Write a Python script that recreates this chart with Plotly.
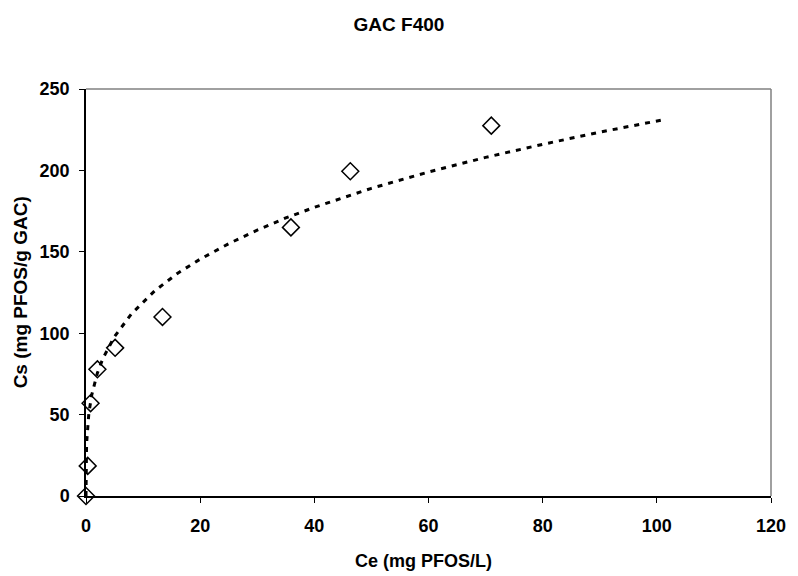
import plotly.graph_objects as go

# Measured isotherm data (Ce in mg PFOS/L, Cs in mg PFOS/g GAC)
ce_data = [0.0, 0.3, 0.8, 2.0, 5.1, 13.4, 35.9, 46.3, 71.0]
cs_data = [0.0, 18.5, 57.0, 77.8, 91.0, 110.0, 165.0, 199.5, 227.5]

# Fitted trend curve
ce_fit = [0.0, 0.001, 0.01, 0.1, 0.5, 1, 2, 3, 5, 8, 12, 16, 20, 25, 30, 35,
          40, 50, 60, 70, 80, 90, 101]
cs_fit = [0.0, 8.7, 16.7, 32.2, 50.9, 62.0, 75.6, 84.8, 98.0, 112.0, 125.9,
          136.7, 145.5, 155.0, 163.3, 170.8, 177.3, 189.0, 199.0, 208.0,
          216.0, 223.5, 231.0]

x_ticks = [0, 20, 40, 60, 80, 100, 120]
y_ticks = [0, 50, 100, 150, 200, 250]

FONT = "Liberation Sans, Arial, sans-serif"

fig = go.Figure()
fig.add_trace(go.Scatter(
    x=ce_fit, y=cs_fit, mode="lines",
    line=dict(color="black", width=3, dash="5px,6px"),
    showlegend=False, hoverinfo="skip",
))
fig.add_trace(go.Scatter(
    x=ce_data, y=cs_data, mode="markers",
    marker=dict(symbol="diamond-open", size=13, color="black",
                line=dict(color="black", width=1.5)),
    showlegend=False, cliponaxis=False,
))

fig.update_layout(
    width=798, height=576,
    margin=dict(l=86, r=18, t=89, b=80),
    paper_bgcolor="white", plot_bgcolor="white",
    font=dict(family=FONT, color="black"),
    title=dict(text="<b>GAC F400</b>", x=0.5, xref="container",
               y=1 - 24 / 576, yref="container", yanchor="middle",
               xanchor="center", font=dict(size=19, family=FONT)),
    xaxis=dict(range=[0, 120], tickvals=x_ticks, showgrid=False,
               zeroline=False, showline=True, linecolor="black", linewidth=1.5,
               ticks="outside", ticklen=5, tickcolor="black",
               tickfont=dict(size=18, family=FONT, weight="bold"),
               ticklabelstandoff=8),
    yaxis=dict(range=[0, 250], tickvals=y_ticks, showgrid=False,
               zeroline=False, showline=True, linecolor="black", linewidth=1.5,
               ticks="outside", ticklen=5, tickcolor="black",
               tickfont=dict(size=18, family=FONT, weight="bold"),
               ticklabelstandoff=6),
    shapes=[
        dict(type="line", xref="paper", yref="paper", x0=0, x1=1, y0=1, y1=1,
             line=dict(color="#808080", width=1.5)),
        dict(type="line", xref="paper", yref="paper", x0=1, x1=1, y0=0, y1=1,
             line=dict(color="#808080", width=1.5)),
    ],
    annotations=[
        dict(text="<b>Ce (mg PFOS/L)</b>", xref="paper", yref="paper",
             x=(428 - 86) / 694, y=(496 - 561) / 407, showarrow=False,
             xanchor="center", yanchor="middle",
             font=dict(size=18, family=FONT)),
        dict(text="<b>Cs (mg PFOS/g GAC)</b>", xref="paper", yref="paper",
             x=(20 - 86) / 694, y=0.5, showarrow=False, textangle=-90,
             xanchor="center", yanchor="middle",
             font=dict(size=19, family=FONT)),
    ],
)

fig.write_html("out.html",
               config={"displayModeBar": False},
               post_script="document.body.style.margin='0';"
                           "document.body.style.overflow='hidden';")
